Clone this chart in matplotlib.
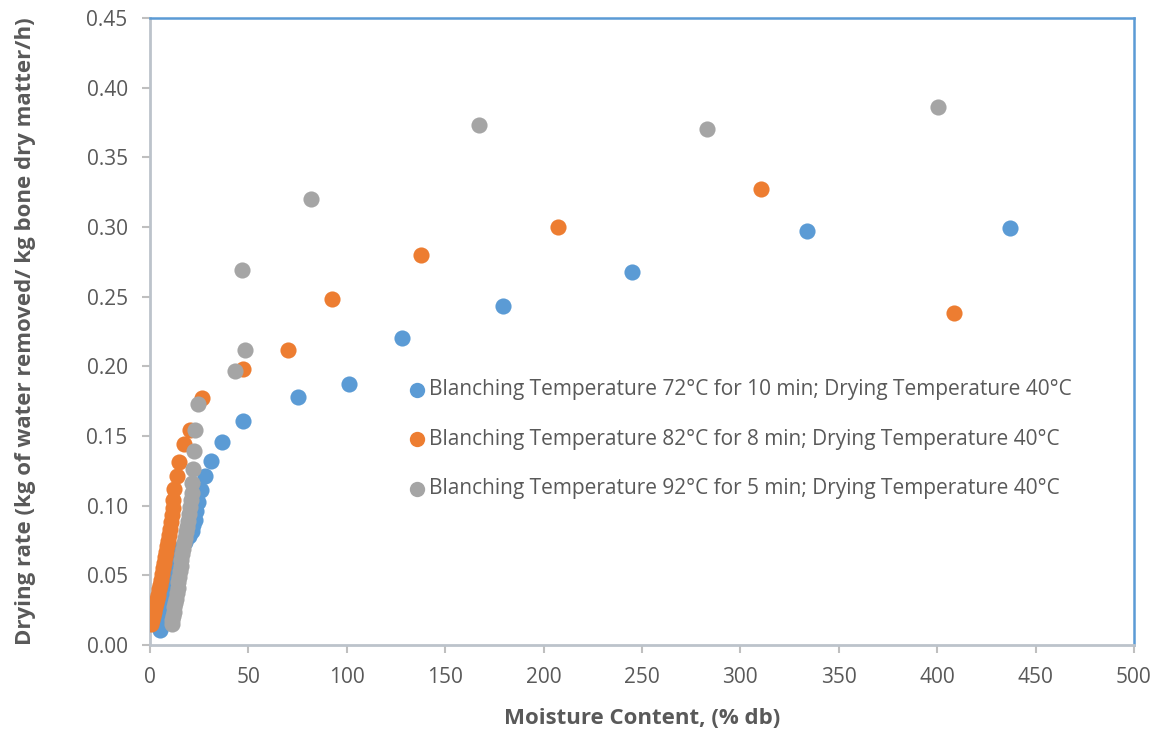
import matplotlib
matplotlib.use("Agg")
import matplotlib.pyplot as plt

plt.rcParams["font.family"] = ["Open Sans", "DejaVu Sans"]

# Blanching 72 C / 10 min
blue_x = [5, 5.8, 6.6, 7.4, 8.2, 9, 9.8, 10.4, 11, 11.5, 12, 12.5, 13, 13.8, 15,
          16.5, 18, 20, 21.5, 22, 22.8, 23.4, 24.4, 26, 28, 31, 36.6, 47.3, 75.3,
          101.2, 128.2, 179.6, 245, 333.7, 437]
blue_y = [0.011, 0.014, 0.017, 0.020, 0.023, 0.026, 0.030, 0.034, 0.038, 0.043,
          0.048, 0.053, 0.058, 0.062, 0.066, 0.070, 0.074, 0.078, 0.082, 0.086,
          0.090, 0.096, 0.103, 0.111, 0.121, 0.132, 0.146, 0.161, 0.178, 0.187,
          0.220, 0.243, 0.268, 0.297, 0.299]

# Blanching 82 C / 8 min
orange_x = [0.5, 1, 1.5, 2, 2.5, 3, 3.5, 4, 4.5, 5, 5.5, 6, 6.5, 7, 7.5, 8, 8.5,
            9, 9.5, 10, 10.5, 11, 11.5, 11.8, 12.3, 13.5, 14.9, 17.5, 20.3, 26.4,
            47.3, 70.2, 92.6, 137.8, 207.5, 310.3, 408.4]
orange_y = [0.015, 0.018, 0.021, 0.024, 0.027, 0.030, 0.033, 0.036, 0.040, 0.043,
            0.047, 0.051, 0.055, 0.059, 0.063, 0.067, 0.071, 0.075, 0.079, 0.083,
            0.088, 0.093, 0.098, 0.104, 0.112, 0.121, 0.131, 0.144, 0.154, 0.177,
            0.198, 0.212, 0.248, 0.280, 0.300, 0.327, 0.238]

# Blanching 92 C / 5 min
grey_x = [11, 11.3, 11.6, 12, 12.4, 12.8, 13.2, 13.6, 14, 14.4, 14.8, 15.2, 15.6,
          16, 16.5, 17, 17.5, 18, 18.5, 19, 19.5, 20, 20.5, 21, 21.2, 21.6, 22,
          22.4, 22.9, 24.4, 43.2, 48.3, 46.8, 81.9, 167.3, 283.3, 400.3]
grey_y = [0.015, 0.018, 0.021, 0.024, 0.027, 0.030, 0.033, 0.037, 0.041, 0.045,
          0.049, 0.053, 0.057, 0.061, 0.065, 0.069, 0.073, 0.077, 0.081, 0.085,
          0.089, 0.094, 0.099, 0.104, 0.109, 0.116, 0.126, 0.139, 0.154, 0.173,
          0.197, 0.212, 0.269, 0.320, 0.373, 0.370, 0.386]

labels = [
    "Blanching Temperature 72°C for 10 min; Drying Temperature 40°C",
    "Blanching Temperature 82°C for 8 min; Drying Temperature 40°C",
    "Blanching Temperature 92°C for 5 min; Drying Temperature 40°C",
]
colors = ["#5B9BD5", "#ED7D31", "#A5A5A5"]
x_ticks = [0, 50, 100, 150, 200, 250, 300, 350, 400, 450, 500]
y_ticks = [0.00, 0.05, 0.10, 0.15, 0.20, 0.25, 0.30, 0.35, 0.40, 0.45]

text_col = "#595959"
fig = plt.figure(figsize=(11.58, 7.29), dpi=100)
ax = fig.add_axes([0.1295, 0.1152, 0.8497, 0.8601])

series = [(blue_x, blue_y), (orange_x, orange_y), (grey_x, grey_y)]
for (xs, ys), c, lab in zip(series, colors, labels):
    ax.scatter(xs, ys, s=135, color=c, label=lab, linewidths=0, zorder=3)

ax.set_xlim(0, 500)
ax.set_ylim(0, 0.45)
ax.set_xticks(x_ticks)
ax.set_yticks(y_ticks)
ax.set_yticklabels([f"{v:.2f}" for v in y_ticks])
ax.tick_params(colors="#BFBFBF", labelcolor=text_col, labelsize=15,
               length=6, width=1.5, direction="out", pad=10)

for side in ["left", "bottom"]:
    ax.spines[side].set_color("#BCC3CB")
    ax.spines[side].set_linewidth(2)
for side in ["top", "right"]:
    ax.spines[side].set_color("#5B9BD5")
    ax.spines[side].set_linewidth(1.8)

ax.set_xlabel("Moisture Content, (% db)", fontsize=16, fontweight="bold",
              color=text_col, labelpad=14)
ax.set_ylabel("Drying rate (kg of water removed/ kg bone dry matter/h)",
              fontsize=16, fontweight="bold", color=text_col, labelpad=36)

leg = ax.legend(loc="upper left", bbox_to_anchor=(0.254, 0.437), frameon=False,
                fontsize=15, handletextpad=0.2, handlelength=0.8,
                labelspacing=1.36, markerscale=0.95, borderaxespad=0)
for t in leg.get_texts():
    t.set_color(text_col)

fig.savefig("out.png", dpi=100)
